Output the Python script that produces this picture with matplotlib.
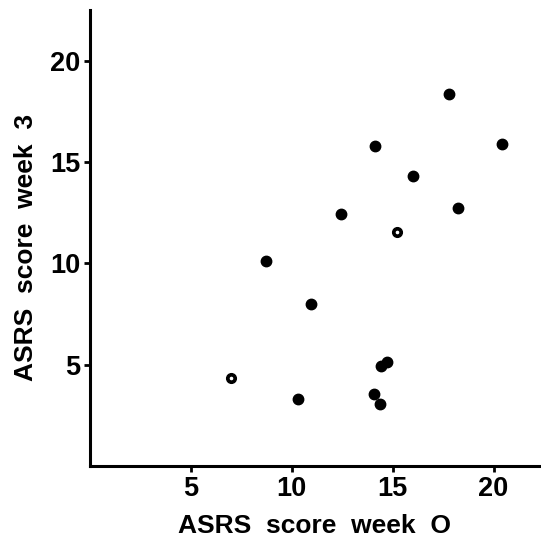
import matplotlib
matplotlib.use("Agg")
import matplotlib.pyplot as plt

# ASRS scores
week0 = [7.0, 8.7, 10.3, 10.95, 12.45, 14.13, 14.05, 14.37, 14.4, 14.72,
         15.2, 16.0, 17.8, 18.25, 20.4]
week3 = [4.35, 10.1, 3.33, 8.0, 12.43, 15.8, 3.55, 3.07, 4.92, 5.12,
         11.57, 14.3, 18.35, 12.73, 15.88]
hollow = [True, False, False, False, False, False, False, False, False, False,
          True, False, False, False, False]

xticks = [5, 10, 15, 20]
yticks = [5, 10, 15, 20]

plt.rcParams['font.family'] = ['Liberation Sans', 'DejaVu Sans']

fig = plt.figure(figsize=(5.41, 5.38), dpi=100)
ax = fig.add_axes([90 / 541, 72 / 538, 450 / 541, 456 / 538])

filled_x = [x for x, h in zip(week0, hollow) if not h]
filled_y = [y for y, h in zip(week3, hollow) if not h]
open_x = [x for x, h in zip(week0, hollow) if h]
open_y = [y for y, h in zip(week3, hollow) if h]

ax.plot(filled_x, filled_y, 'o', color='black', markersize=7.5, clip_on=False)
# the two "open" points are rings with a tiny white centre
ax.plot(open_x, open_y, 'o', color='black', markersize=7, clip_on=False)
ax.plot(open_x, open_y, 'o', color='white', markersize=1.6, clip_on=False)

ax.set_xlim(0, 22.3)
ax.set_ylim(0, 22.5)
ax.set_xticks(xticks)
ax.set_yticks(yticks)

for s in ['top', 'right']:
    ax.spines[s].set_visible(False)
for s in ['left', 'bottom']:
    ax.spines[s].set_linewidth(2.2)

ax.tick_params(direction='out', length=4, width=2, labelsize=19.5, pad=3)
for lab in ax.get_xticklabels() + ax.get_yticklabels():
    lab.set_fontweight('bold')

ax.set_xlabel("ASRS  score  week  O", fontsize=19, fontweight='bold', labelpad=9)
ax.set_ylabel("ASRS  score  week  3", fontsize=19, fontweight='bold')
ax.yaxis.set_label_coords(-0.116, 0.48)

fig.savefig("out.png", dpi=100)
